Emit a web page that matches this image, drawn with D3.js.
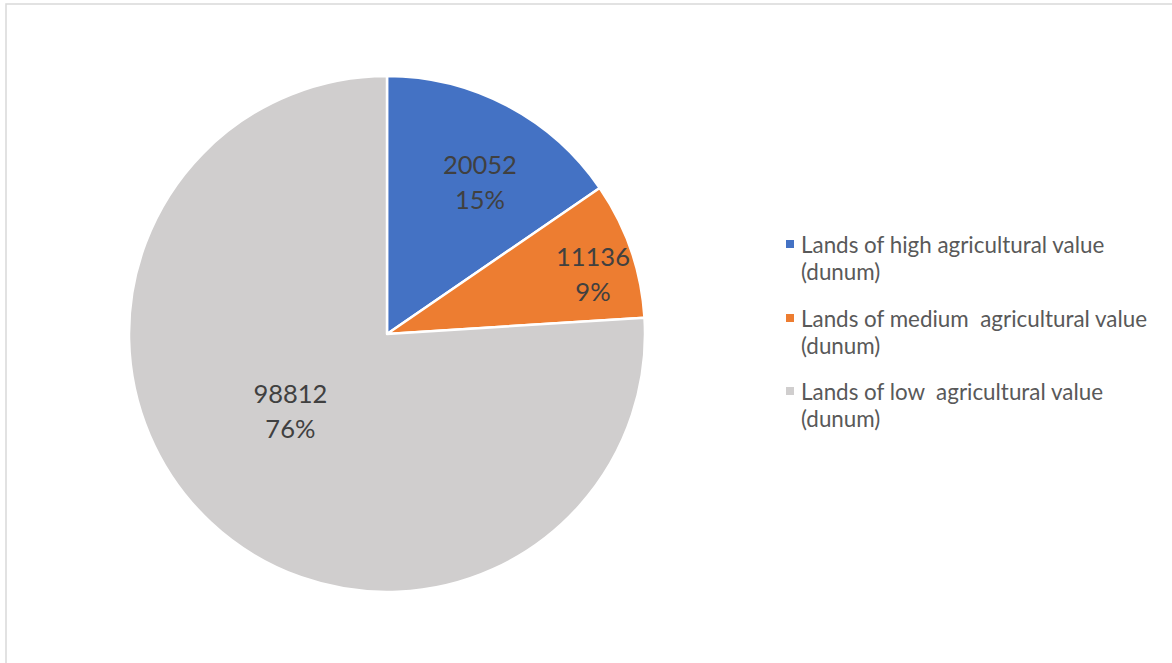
<!DOCTYPE html>
<html><head><meta charset="utf-8">
<script src="https://cdn.jsdelivr.net/npm/d3@7"></script>
<style>html,body{margin:0;padding:0;background:#fff;overflow:hidden} text{white-space:pre}</style>
</head><body>
<svg id="c" width="1172" height="663"></svg>
<script>
const categories = ["Lands of high agricultural value (dunum)", "Lands of medium  agricultural value (dunum)", "Lands of low  agricultural value (dunum)"];
const legendLine1 = ["Lands of high agricultural value", "Lands of medium  agricultural value", "Lands of low  agricultural value"];
const legendLine2 = ["(dunum)", "(dunum)", "(dunum)"];
const values = [20052, 11136, 98812];
const percents = ["15%", "9%", "76%"];
const colors = ["#4472C4", "#ED7D31", "#D0CECE"];

const svg = d3.select("#c");
svg.append("rect").attr("x", 6).attr("y", 4).attr("width", 1200).attr("height", 700)
  .attr("fill", "#fff").attr("stroke", "#d9d9d9").attr("stroke-width", 1.5);

const cx = 387, cy = 334, r = 258;
const pie = d3.pie().sort(null).value(d => d)(values);
const arc = d3.arc().innerRadius(0).outerRadius(r);
const g = svg.append("g").attr("transform", `translate(${cx},${cy})`);
g.selectAll("path").data(pie).join("path")
  .attr("d", arc).attr("fill", (d, i) => colors[i])
  .attr("stroke", "#fff").attr("stroke-width", 2.5).attr("stroke-linejoin", "round");

const labelR = [0.69, 0.82, 0.4];
const labelShift = [[10, 4], [6, 7], [-26, 0]];
const labelArc = i => d3.arc().innerRadius(r * labelR[i]).outerRadius(r * labelR[i]);
g.selectAll("text.lbl").data(pie).join("text")
  .attr("class", "lbl")
  .attr("transform", (d, i) => { const c = labelArc(i).centroid(d); return `translate(${c[0] + labelShift[i][0]},${c[1] + labelShift[i][1]})`; })
  .attr("text-anchor", "middle")
  .attr("font-family", "Lato, 'Open Sans', sans-serif")
  .attr("font-size", 25.5).attr("fill", "#404040")
  .each(function (d, i) {
    const t = d3.select(this);
    t.append("tspan").attr("x", 0).attr("y", -6).text(values[i]);
    t.append("tspan").attr("x", 0).attr("y", 29).text(percents[i]);
  });

const lg = svg.append("g").attr("transform", "translate(786,0)");
const itemY = [253, 327, 400];
categories.forEach((c, i) => {
  lg.append("rect").attr("x", 0).attr("y", itemY[i] - 13).attr("width", 8).attr("height", 8).attr("fill", colors[i]);
  const t = lg.append("text").attr("font-family", "Lato, 'Open Sans', sans-serif").attr("font-size", 22.4).attr("fill", "#595959");
  t.append("tspan").attr("x", 15).attr("y", itemY[i]).text(legendLine1[i]);
  t.append("tspan").attr("x", 15).attr("y", itemY[i] + 27).text(legendLine2[i]);
});
</script>
</body></html>
